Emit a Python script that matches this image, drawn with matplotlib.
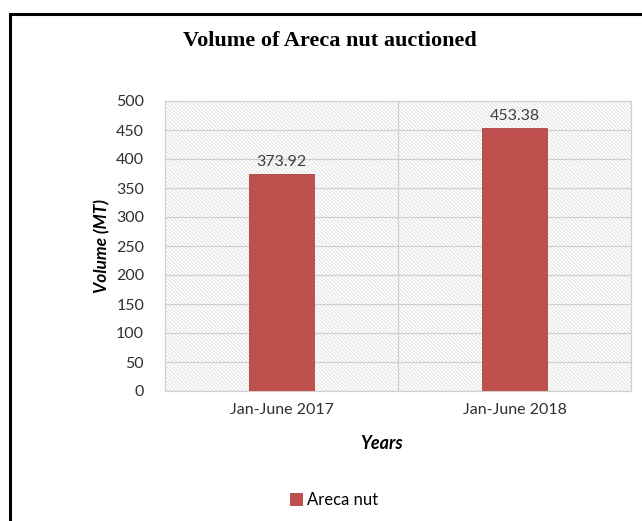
import matplotlib.pyplot as plt
from matplotlib.patches import Rectangle

categories = ["Jan-June 2017", "Jan-June 2018"]
volumes = [373.92, 453.38]
series_name = "Areca nut"

plt.close('all')
fig = plt.figure(figsize=(6.42, 5.21), dpi=100)
ax = fig.add_axes([165 / 642, 130 / 521, 466 / 642, 290 / 521])

# outer black frame (runs off the right / bottom edges)
fig.patches.append(Rectangle((9.5 / 642, -0.05), 1.2, (521 - 13.5) / 521 + 0.05,
                             transform=fig.transFigure, fill=False,
                             edgecolor="black", linewidth=2.2, zorder=0))

plt.rcParams['hatch.linewidth'] = 0.5
plt.rcParams['hatch.color'] = "#D6D6D6"
ax.add_patch(Rectangle((0, 0), 1, 1, transform=ax.transAxes, facecolor="white",
                       edgecolor="#D6D6D6", hatch="\\" * 9, linewidth=0, zorder=0))

x = range(len(categories))
bars = ax.bar(x, volumes, width=0.28, color="#C0504D", edgecolor="#A94542",
              linewidth=0.6, label=series_name, zorder=3)

for xi, v in zip(x, volumes):
    ax.text(xi, v + 8, f"{v:.2f}", ha="center", va="bottom", fontsize=11.5,
            family="Lato", color="#404040")

ax.set_xlim(-0.5, 1.5)
ax.set_ylim(0, 500)
ax.set_yticks(range(0, 501, 50))
ax.set_xticks(list(x))
ax.set_xticklabels(categories)
ax.set_axisbelow(True)
ax.yaxis.grid(True, color="#D0D0D0", linewidth=0.9, zorder=1)
ax.axvline(0.5, color="#D0D0D0", linewidth=0.9, zorder=1)
for s in ax.spines.values():
    s.set_color("#D0D0D0")
    s.set_linewidth(0.9)
ax.tick_params(length=0, labelsize=11.5, colors="#303030", pad=9)
for lbl in ax.get_xticklabels() + ax.get_yticklabels():
    lbl.set_family("Lato")
ax.tick_params(axis="y", pad=15)

ax.set_ylabel("Volume (MT)", fontsize=12.5, family="Lato", fontweight="bold",
              style="italic", labelpad=4)
ax.set_xlabel("Years", fontsize=13, family="Lato", fontweight="bold",
              style="italic")
ax.xaxis.set_label_coords(0.465, -0.152)

fig.text(0.514, 0.921, "Volume of Areca nut auctioned", ha="center", va="center",
         fontsize=16, family="Liberation Serif", fontweight="bold")

fig.legend(handles=[bars], labels=[series_name], loc="center",
           bbox_to_anchor=(0.52, 0.04), frameon=False, handlelength=0.75,
           handleheight=0.75, handletextpad=0.3, prop={"family": "Lato", "size": 12})

fig.savefig("out.png", dpi=100)
